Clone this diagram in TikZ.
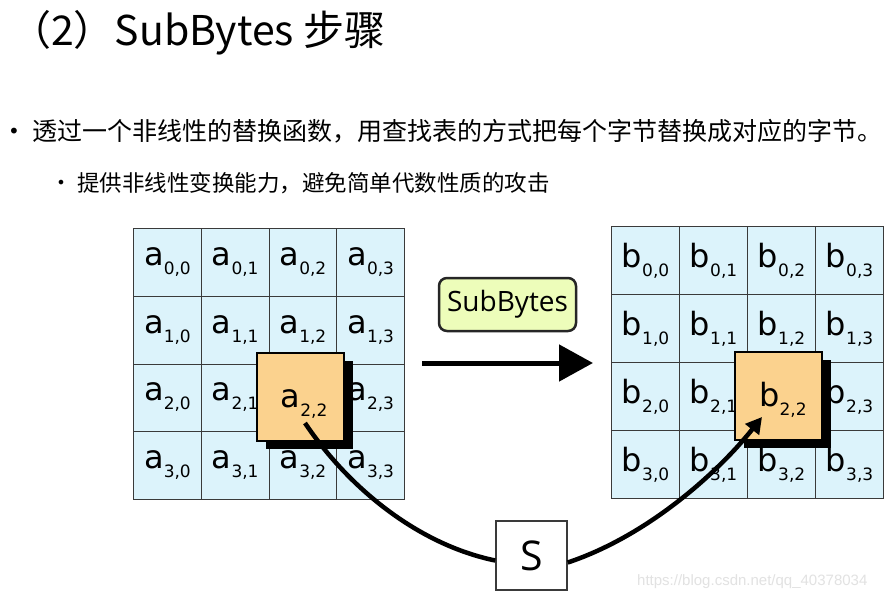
\documentclass[tikz,border=0pt]{standalone}
\usepackage{fontspec}
\usetikzlibrary{arrows.meta,calc}
\newfontfamily\cjkf{Noto Sans CJK SC}
\newfontfamily\cellf{DejaVu Sans}
\newfontfamily\segf{Open Sans}
\newfontfamily\wmf{Liberation Sans}
\definecolor{cellblue}{HTML}{DCF3FB}
\definecolor{hilite}{HTML}{FBD28E}
\definecolor{tagfill}{HTML}{EDFDBA}
\definecolor{gridline}{HTML}{3A3A3A}
\definecolor{wmgray}{HTML}{E2E2E2}
\newcommand\celltxt[2]{#1\raisebox{-9pt}{\fontsize{17}{17}\selectfont #2}}
\begin{document}
\begin{tikzpicture}[x=1pt,y=-1pt,
  cellbox/.style={draw=gridline, line width=1.2pt, fill=cellblue, minimum width=67.75pt, minimum height=67.75pt, inner sep=0pt, anchor=north west},
  celllab/.style={anchor=base, inner sep=0pt, font=\cellf\fontsize{32}{32}\selectfont},
  hibox/.style={draw=black, line width=2pt, fill=hilite, minimum width=87pt, minimum height=88pt, inner sep=0pt},
  shadowbox/.style={fill=black, minimum width=87pt, minimum height=88pt, inner sep=0pt},
  thickline/.style={line width=4.5pt, draw=black},
  textline/.style={anchor=base west, inner sep=0pt}
]
\fill[white] (0,0) rectangle (889,599);
\useasboundingbox (0,0) rectangle (889,599);

% title and bullets
\node[textline, font=\cjkf\fontsize{41}{41}\selectfont] (title) at (10,46) {（2）SubBytes 步骤};
\node[inner sep=0pt, font=\cellf\fontsize{20}{20}\selectfont] (bul1) at (14,133) {•};
\node[textline, font=\cjkf\fontsize{25}{25}\selectfont] (line1) at (32,141) {透过一个非线性的替换函数，用查找表的方式把每个字节替换成对应的字节。};
\node[inner sep=0pt, font=\cellf\fontsize{16}{16}\selectfont] (bul2) at (61,184) {•};
\node[textline, font=\cjkf\fontsize{22.5}{22.5}\selectfont] (line2) at (77,191) {提供非线性变换能力，避免简单代数性质的攻击};

% left grid
\foreach \r in {0,...,3}{\foreach \c in {0,...,3}{
  \node[cellbox] (A\r\c) at (133+\c*67.75, 228+\r*67.75) {};
  \ifnum\r\c=22 \else
  \node[celllab] (LA\r\c) at ($(A\r\c.center)+(0,3)$) {\celltxt{a}{\r,\c}};
  \fi
}}
% right grid
\foreach \r in {0,...,3}{\foreach \c in {0,...,3}{
  \node[cellbox, minimum width=68pt, minimum height=68pt] (B\r\c) at (611+\c*68, 226+\r*68) {};
  \ifnum\r\c=22 \else
  \node[celllab] (LB\r\c) at ($(B\r\c.center)+(0,7)$) {\celltxt{b}{\r,\c}};
  \fi
}}

% highlighted cells
\node[shadowbox] (Ash) at (309.5,405) {};
\node[hibox] (Ahi) at (300.5,397) {};
\node[celllab] (LAhi) at (304,407) {\celltxt{a}{2,2}};
\node[shadowbox] (Bsh) at (787,404) {};
\node[hibox] (Bhi) at (778,396) {};
\node[celllab] (LBhi) at (783,406) {\celltxt{b}{2,2}};

% SubBytes tag and arrow
\node[draw=black!85, line width=2.5pt, fill=tagfill, rounded corners=8pt, minimum width=137pt, minimum height=53pt, inner sep=0pt, font=\segf\fontsize{28}{28}\selectfont] (tag) at (507.5,304.5) {SubBytes};
\coordinate (arrS) at (422,363);
\coordinate (arrE) at (593,363);
\draw[line width=5pt, -{Triangle[length=34pt,width=36pt]}] (arrS) -- (arrE);

% S box and curve
\node[draw=gridline, line width=1.5pt, fill=white, minimum width=71pt, minimum height=69pt, inner sep=0pt, font=\segf\fontsize{41}{41}\selectfont] (S) at (531.5,555.5) {S};
\coordinate (src) at (305,423);
\coordinate (dst) at (762,417);
\draw[thickline] (src) .. controls (350,490) and (420,545) .. ([yshift=-5pt]S.west);
\draw[thickline, -{Triangle[length=16pt,width=17pt]}] ([yshift=-7pt]S.east) .. controls (650,535) and (720,470) .. (dst);

% watermark
\node[anchor=west, inner sep=0pt, text=wmgray, font=\wmf\fontsize{15}{15}\selectfont] (wm) at (637,582) {https://blog.csdn.net/qq\_40378034};
\end{tikzpicture}
\end{document}
